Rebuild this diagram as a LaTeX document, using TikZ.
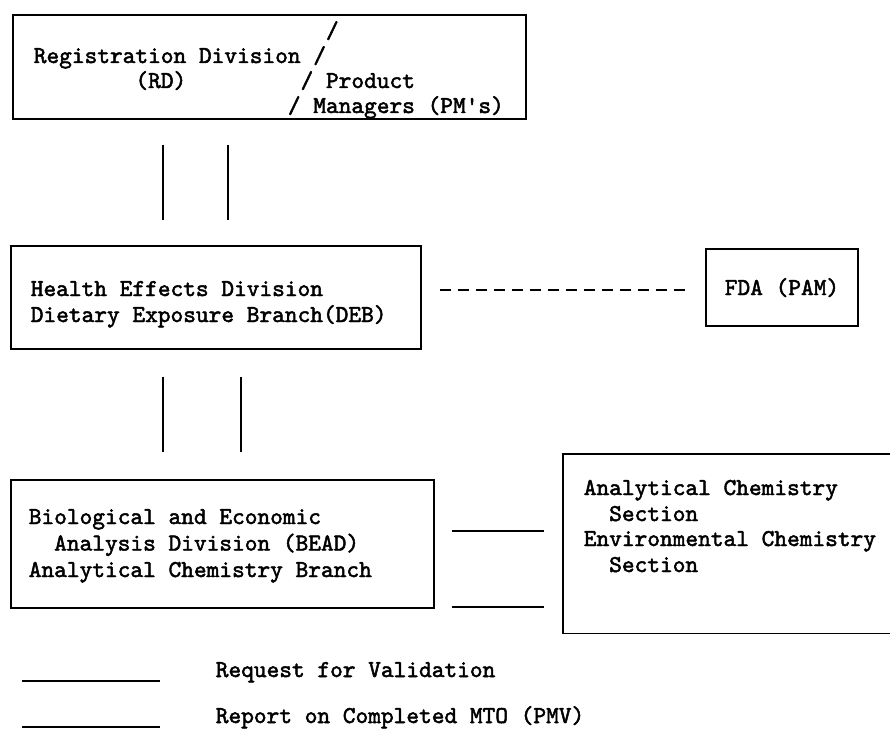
\documentclass[tikz,border=0pt]{standalone}
\usepackage{fontspec}
\newfontfamily\tw{lmmono10-regular.otf}[FakeBold=2]
\begin{document}
\begin{tikzpicture}[x=1pt,y=-1pt,line width=1.6pt,
  box/.style={draw, rectangle, inner sep=0pt, anchor=north west},
  txt/.style={anchor=base west, inner sep=0pt, font=\tw\fontsize{24.2}{26}\selectfont},
  link/.style={draw, line width=1.7pt}]
\useasboundingbox (0,0) rectangle (890,735);
% boxes
\node[box, minimum width=513pt, minimum height=104pt] (rd) at (12,14) {};
\node[box, minimum width=410pt, minimum height=103pt] (health) at (10,245) {};
\node[box, minimum width=152pt, minimum height=77pt] (fda) at (705,248) {};
\node[box, minimum width=423pt, minimum height=128pt] (bead) at (10,479) {};
\node[inner sep=0pt, anchor=north west, minimum width=327pt, minimum height=178pt] (sec) at (563,454) {};
\draw (sec.north east) -- (sec.north west) -- (sec.south west) -- (sec.south east);
% RD texts
\node[txt] (rd0) at (33,38) {~~~~~~~~~~~~~~~~~~~~~~~/};
\node[txt] (rd1) at (33,63) {Registration Division /};
\node[txt] (rd2) at (33,88) {~~~~~~~~(RD)~~~~~~~~~/~Product};
\node[txt] (rd3) at (33,113) {~~~~~~~~~~~~~~~~~~~~/~Managers (PM's)};
% Health texts
\node[txt] (h1) at (30,296) {Health Effects Division};
\node[txt] (h2) at (30,322) {Dietary Exposure Branch(DEB)};
% FDA
\node[txt] (f1) at (724,295) {FDA (PAM)};
% BEAD
\node[txt] (b1) at (28,524) {Biological and Economic};
\node[txt] (b2) at (28,550.5) {~~Analysis Division (BEAD)};
\node[txt] (b3) at (28,577) {Analytical Chemistry Branch};
% Section
\node[txt] (s1) at (583,495) {Analytical Chemistry};
\node[txt] (s2) at (583,521) {~~Section};
\node[txt] (s3) at (583,546) {Environmental Chemistry};
\node[txt] (s4) at (583,572) {~~Section};
% legend
\node[txt] (l1) at (215,677) {Request for Validation};
\node[txt] (l2) at (215,723) {Report on Completed MTO (PMV)};
\coordinate (l1a) at (22,681);
\coordinate (l1b) at (160,681);
\coordinate (l2a) at (22,727);
\coordinate (l2b) at (160,727);
\draw[link] (l1a) -- (l1b);
\draw[link] (l2a) -- (l2b);
% connectors
\draw[link, shorten <=25pt, shorten >=25pt] (rd.south -| 163,0) -- (health.north -| 163,0);
\draw[link, shorten <=25pt, shorten >=25pt] (rd.south -| 228,0) -- (health.north -| 228,0);
\draw[link, shorten <=27pt, shorten >=27pt] (health.south -| 163,0) -- (bead.north -| 163,0);
\draw[link, shorten <=27pt, shorten >=27pt] (health.south -| 241,0) -- (bead.north -| 241,0);
\draw[link, dash pattern=on 11.5pt off 6.5pt, shorten <=18pt, shorten >=18pt] (health.east |- 0,290) -- (fda.west |- 0,290);
\draw[link, shorten <=17pt, shorten >=19pt] (bead.east |- 0,531) -- (sec.west |- 0,531);
\draw[link, shorten <=17pt, shorten >=19pt] (bead.east |- 0,607) -- (sec.west |- 0,607);
\end{tikzpicture}
\end{document}
